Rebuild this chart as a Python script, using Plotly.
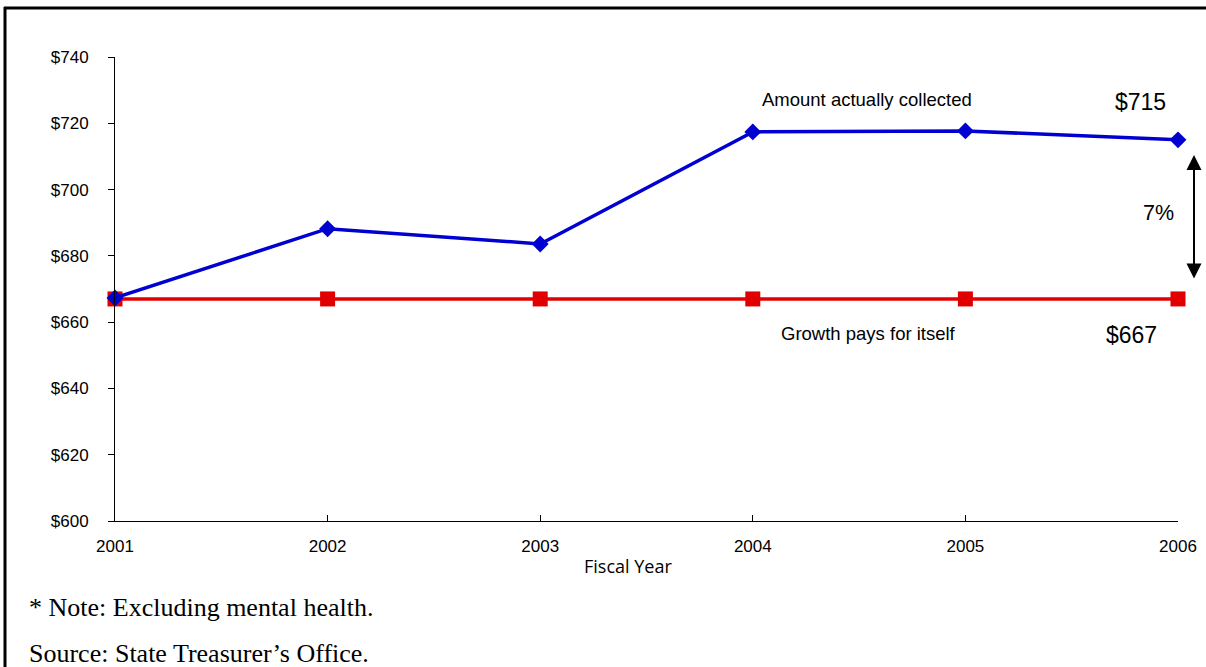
import plotly.graph_objects as go

years = [2001, 2002, 2003, 2004, 2005, 2006]
collected = [667.3, 688.2, 683.6, 717.4, 717.7, 715.0]
growth = [667, 667, 667, 667, 667, 667]
y_ticks = [600, 620, 640, 660, 680, 700, 720, 740]
y_tick_labels = ["$" + str(v) for v in y_ticks]

W, H = 1206, 667
L, R, T, B = 115, 28, 57, 146
pw, ph = W - L - R, H - T - B

def px_x(p):
    return (p - L) / pw

def px_y(p):
    return (H - B - p) / ph

fig = go.Figure()
fig.add_trace(go.Scatter(
    x=years, y=growth, mode="lines+markers",
    line=dict(color="#e00000", width=3.5),
    marker=dict(symbol="square", size=15, color="#e00000"),
    cliponaxis=False, showlegend=False))
fig.add_trace(go.Scatter(
    x=years, y=collected, mode="lines+markers",
    line=dict(color="#0000d0", width=3.5),
    marker=dict(symbol="diamond", size=13, color="#0000d0"),
    cliponaxis=False, showlegend=False))

axis_font = dict(family="Liberation Sans, Arial, sans-serif", size=17, color="black")

fig.update_layout(
    width=W, height=H,
    margin=dict(l=L, r=R, t=T, b=B, autoexpand=False),
    paper_bgcolor="white", plot_bgcolor="white",
    xaxis=dict(range=[2001, 2006], tickmode="array", tickvals=years,
               ticktext=[str(y) for y in years], showgrid=False, zeroline=False,
               showline=True, linecolor="black", linewidth=1, automargin=False,
               ticks="inside", ticklen=6, tickcolor="black",
               tickfont=axis_font, ticklabelstandoff=10),
    yaxis=dict(range=[600, 740], tickmode="array", tickvals=y_ticks,
               ticktext=y_tick_labels, showgrid=False, zeroline=False,
               showline=True, linecolor="black", linewidth=1, automargin=False,
               ticks="outside", ticklen=6, tickcolor="black",
               tickfont=axis_font, ticklabelstandoff=16),
)

# Frame lines (top and left)
fig.add_shape(type="line", xref="paper", yref="paper",
              x0=px_x(4), x1=px_x(1210), y0=px_y(8), y1=px_y(8),
              line=dict(color="black", width=3))
fig.add_shape(type="line", xref="paper", yref="paper",
              x0=px_x(5), x1=px_x(5), y0=px_y(7), y1=px_y(670),
              line=dict(color="black", width=3))

ann_font = "Liberation Sans, Arial, sans-serif"

def label(xp, yp, text, size, family=ann_font, xanchor="center"):
    fig.add_annotation(x=px_x(xp), y=px_y(yp), xref="paper", yref="paper",
                       xanchor=xanchor, yanchor="middle", text=text,
                       showarrow=False,
                       font=dict(family=family, size=size, color="black"))

label(867, 100, "Amount actually collected", 18.5)
label(1140, 102, "$715", 23)
label(1158, 213, "7%", 21.5)
label(868, 333, "Growth pays for itself", 18.5)
label(1131, 335, "$667", 23)

# Double-headed arrow
fig.add_annotation(x=px_x(1194), y=px_y(155), ax=0, ay=125,
                   xref="paper", yref="paper", axref="pixel", ayref="pixel",
                   text="", showarrow=True, arrowhead=2, startarrowhead=2,
                   arrowside="end+start", arrowsize=1.5, startarrowsize=1.5,
                   arrowwidth=2, arrowcolor="black", standoff=0, startstandoff=0)

label(628, 566, "Fiscal Year", 18, family="Open Sans, Noto Sans, sans-serif")

serif = "Liberation Serif, DejaVu Serif, serif"
label(27, 607, "* Note: Excluding mental health.", 26, family=serif, xanchor="left")
label(27, 653, "Source: State Treasurer’s Office.", 26, family=serif, xanchor="left")

fig.write_html("out.html")
